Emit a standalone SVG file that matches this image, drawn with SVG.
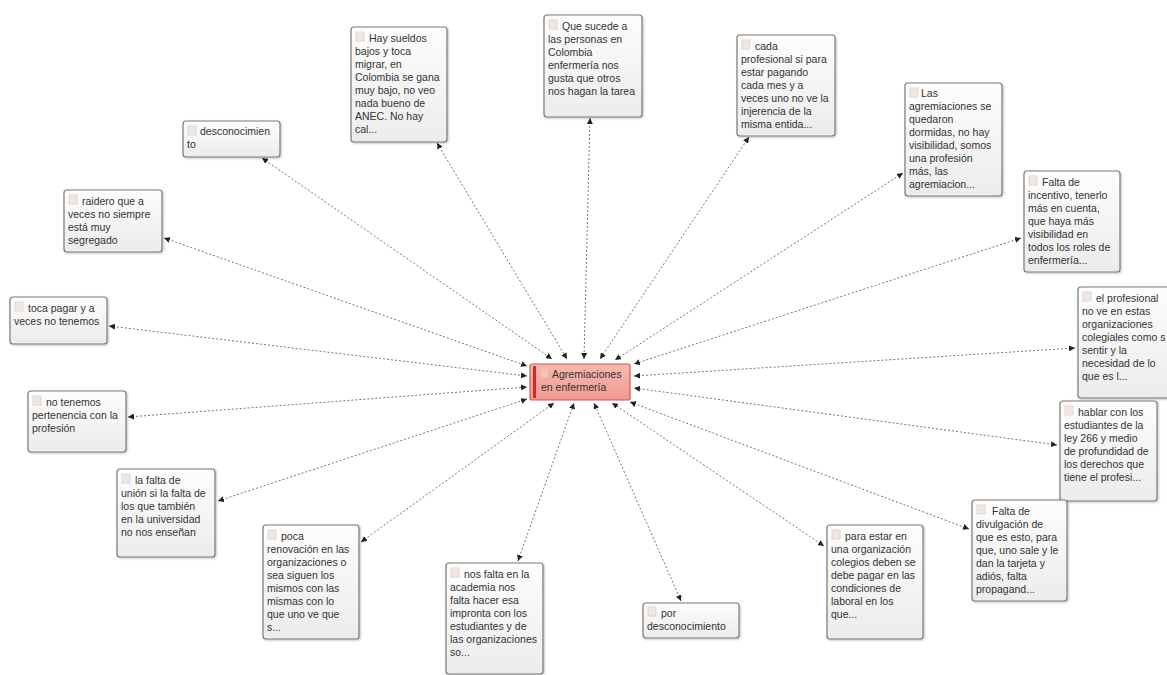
<svg xmlns="http://www.w3.org/2000/svg" width="1167" height="675" viewBox="0 0 1167 675">
  <defs>
    <linearGradient id="boxFill" x1="0" y1="0" x2="0" y2="1">
      <stop offset="0" stop-color="#fdfdfd"/>
      <stop offset="1" stop-color="#ececec"/>
    </linearGradient>
    <linearGradient id="hubFill" x1="0" y1="0" x2="0" y2="1">
      <stop offset="0" stop-color="#f7b8b2"/>
      <stop offset="1" stop-color="#f19a92"/>
    </linearGradient>
    <marker id="tip" viewBox="0 0 6 6" refX="6" refY="3" markerWidth="6" markerHeight="6" markerUnits="userSpaceOnUse" orient="auto-start-reverse">
      <path d="M0,0 L6,3 L0,6 z" fill="#222"/>
    </marker>
    <filter id="shadow" x="-10%" y="-10%" width="130%" height="130%">
      <feDropShadow dx="1" dy="1" stdDeviation="0.8" flood-color="#000" flood-opacity="0.25"/>
    </filter>
  </defs>
  <style>
    .box { fill: url(#boxFill); stroke: #7a7a7a; stroke-width: 1.2; filter: url(#shadow); }
    .ico { fill: #f1e7e1; stroke: #ddd0c8; stroke-width: 0.8; }
    .txt { font-family: "Liberation Sans", Arial, sans-serif; font-size: 10.5px; fill: #333; }
    .hub { fill: url(#hubFill); stroke: #d2574d; stroke-width: 1.2; }
    .bar { fill: #d8281c; }
    .edge { stroke: #666; stroke-width: 0.9; stroke-dasharray: 2 2; fill: none; marker-start: url(#tip); marker-end: url(#tip); }
  </style>
  <rect width="1167" height="675" fill="#ffffff"/>

  <!-- connectors -->
  <g id="edges">
    <line class="edge" x1="262" y1="158" x2="552" y2="359"/>
    <line class="edge" x1="437" y1="143" x2="567" y2="359"/>
    <line class="edge" x1="590" y1="118" x2="584" y2="359"/>
    <line class="edge" x1="749" y1="137" x2="600" y2="359"/>
    <line class="edge" x1="903" y1="173" x2="615" y2="360"/>
    <line class="edge" x1="1021" y1="238" x2="634" y2="364"/>
    <line class="edge" x1="1075" y1="348" x2="634" y2="376"/>
    <line class="edge" x1="1057" y1="445" x2="634" y2="388"/>
    <line class="edge" x1="969" y1="529" x2="630" y2="402"/>
    <line class="edge" x1="824" y1="546" x2="612" y2="403"/>
    <line class="edge" x1="681" y1="601" x2="594" y2="403"/>
    <line class="edge" x1="518" y1="561" x2="574" y2="403"/>
    <line class="edge" x1="361" y1="542" x2="554" y2="403"/>
    <line class="edge" x1="218" y1="501" x2="527" y2="399"/>
    <line class="edge" x1="128" y1="417" x2="527" y2="387"/>
    <line class="edge" x1="109" y1="326" x2="527" y2="376"/>
    <line class="edge" x1="164" y1="238" x2="527" y2="366"/>
  </g>

  <!-- central node -->
  <g id="hub">
    <rect class="hub" x="530" y="364" width="100" height="36" rx="2"/>
    <rect class="bar" x="533" y="366" width="3" height="32"/>
    <rect x="541" y="369" width="7" height="8" fill="#f5c8bc" opacity="0.8"/>
    <text class="txt" fill="#3a2020"><tspan x="552" y="378">Agremiaciones</tspan><tspan x="541" y="391">en enfermería</tspan></text>
  </g>

  <g id="n-desconocimiento">
    <rect class="box" x="183" y="121" width="97" height="36" rx="3"/>
    <rect class="ico" x="188" y="126" width="8" height="9"/>
    <text class="txt"><tspan x="200" y="135">desconocimien</tspan><tspan x="187" y="148">to</tspan></text>
  </g>

  <g id="n-sueldos">
    <rect class="box" x="351" y="27" width="96" height="115" rx="3"/>
    <rect class="ico" x="356" y="32" width="8" height="9"/>
    <text class="txt"><tspan x="369" y="42">Hay sueldos</tspan><tspan x="355" y="55">bajos y toca</tspan><tspan x="355" y="68">migrar, en</tspan><tspan x="355" y="81">Colombia se gana</tspan><tspan x="355" y="94">muy bajo, no veo</tspan><tspan x="355" y="107">nada bueno de</tspan><tspan x="355" y="120">ANEC. No hay</tspan><tspan x="355" y="133">cal...</tspan></text>
  </g>

  <g id="n-sucede">
    <rect class="box" x="544" y="15" width="98" height="102" rx="3"/>
    <rect class="ico" x="549" y="20" width="8" height="9"/>
    <text class="txt"><tspan x="562" y="30">Que sucede a</tspan><tspan x="548" y="43">las personas en</tspan><tspan x="548" y="56">Colombia</tspan><tspan x="548" y="69">enfermería nos</tspan><tspan x="548" y="82">gusta que otros</tspan><tspan x="548" y="95">nos hagan la tarea</tspan></text>
  </g>

  <g id="n-cada">
    <rect class="box" x="737" y="35" width="98" height="101" rx="3"/>
    <rect class="ico" x="742" y="40" width="8" height="9"/>
    <text class="txt"><tspan x="755" y="50">cada</tspan><tspan x="741" y="63">profesional si para</tspan><tspan x="741" y="76">estar pagando</tspan><tspan x="741" y="89">cada mes y a</tspan><tspan x="741" y="102">veces uno no ve la</tspan><tspan x="741" y="115">injerencia de la</tspan><tspan x="741" y="128">misma entida...</tspan></text>
  </g>

  <g id="n-dormidas">
    <rect class="box" x="905" y="83" width="97" height="113" rx="3"/>
    <rect class="ico" x="910" y="88" width="8" height="9"/>
    <text class="txt"><tspan x="921" y="97">Las</tspan><tspan x="909" y="110">agremiaciones se</tspan><tspan x="909" y="123">quedaron</tspan><tspan x="909" y="136">dormidas, no hay</tspan><tspan x="909" y="149">visibilidad, somos</tspan><tspan x="909" y="162">una profesión</tspan><tspan x="909" y="175">más, las</tspan><tspan x="909" y="188">agremiacion...</tspan></text>
  </g>

  <g id="n-incentivo">
    <rect class="box" x="1024" y="171" width="96" height="101" rx="3"/>
    <rect class="ico" x="1029" y="176" width="8" height="9"/>
    <text class="txt"><tspan x="1042" y="186">Falta de</tspan><tspan x="1028" y="199">incentivo, tenerlo</tspan><tspan x="1028" y="212">más en cuenta,</tspan><tspan x="1028" y="225">que haya más</tspan><tspan x="1028" y="238">visibilidad en</tspan><tspan x="1028" y="251">todos los roles de</tspan><tspan x="1028" y="264">enfermería...</tspan></text>
  </g>

  <g id="n-colegiales">
    <rect class="box" x="1078" y="287" width="98" height="111" rx="3"/>
    <rect class="ico" x="1083" y="292" width="8" height="9"/>
    <text class="txt"><tspan x="1096" y="302">el profesional</tspan><tspan x="1082" y="315">no ve en estas</tspan><tspan x="1082" y="328">organizaciones</tspan><tspan x="1082" y="341">colegiales como s</tspan><tspan x="1082" y="354">sentir y la</tspan><tspan x="1082" y="367">necesidad de lo</tspan><tspan x="1082" y="380">que es l...</tspan></text>
  </g>

  <g id="n-ley266">
    <rect class="box" x="1060" y="401" width="97" height="100" rx="3"/>
    <rect class="ico" x="1065" y="406" width="8" height="9"/>
    <text class="txt"><tspan x="1078" y="416">hablar con los</tspan><tspan x="1064" y="429">estudiantes de la</tspan><tspan x="1064" y="442">ley 266 y medio</tspan><tspan x="1064" y="455">de profundidad de</tspan><tspan x="1064" y="468">los derechos que</tspan><tspan x="1064" y="481">tiene el profesi...</tspan></text>
  </g>

  <g id="n-divulgacion">
    <rect class="box" x="972" y="500" width="95" height="101" rx="3"/>
    <rect class="ico" x="977" y="505" width="8" height="9"/>
    <text class="txt"><tspan x="992" y="515">Falta de</tspan><tspan x="976" y="528">divulgación de</tspan><tspan x="976" y="541">que es esto, para</tspan><tspan x="976" y="554">que, uno sale y le</tspan><tspan x="976" y="567">dan la tarjeta y</tspan><tspan x="976" y="580">adiós, falta</tspan><tspan x="976" y="593">propagand...</tspan></text>
  </g>

  <g id="n-pagar-colegio">
    <rect class="box" x="827" y="525" width="96" height="114" rx="3"/>
    <rect class="ico" x="832" y="530" width="8" height="9"/>
    <text class="txt"><tspan x="845" y="540">para estar en</tspan><tspan x="831" y="553">una organización</tspan><tspan x="831" y="566">colegios deben se</tspan><tspan x="831" y="579">debe pagar en las</tspan><tspan x="831" y="592">condiciones de</tspan><tspan x="831" y="605">laboral en los</tspan><tspan x="831" y="618">que...</tspan></text>
  </g>

  <g id="n-por-desconocimiento">
    <rect class="box" x="643" y="603" width="96" height="35" rx="3"/>
    <rect class="ico" x="648" y="607" width="8" height="9"/>
    <text class="txt"><tspan x="661" y="617">por</tspan><tspan x="647" y="630">desconocimiento</tspan></text>
  </g>

  <g id="n-academia">
    <rect class="box" x="446" y="563" width="97" height="111" rx="3"/>
    <rect class="ico" x="451" y="568" width="8" height="9"/>
    <text class="txt"><tspan x="464" y="578">nos falta en la</tspan><tspan x="450" y="591">academia nos</tspan><tspan x="450" y="604">falta hacer esa</tspan><tspan x="450" y="617">impronta con los</tspan><tspan x="450" y="630">estudiantes y de</tspan><tspan x="450" y="643">las organizaciones</tspan><tspan x="450" y="656">so...</tspan></text>
  </g>

  <g id="n-renovacion">
    <rect class="box" x="263" y="525" width="96" height="114" rx="3"/>
    <rect class="ico" x="268" y="530" width="8" height="9"/>
    <text class="txt"><tspan x="281" y="540">poca</tspan><tspan x="267" y="553">renovación en las</tspan><tspan x="267" y="566">organizaciones o</tspan><tspan x="267" y="579">sea siguen los</tspan><tspan x="267" y="592">mismos con las</tspan><tspan x="267" y="605">mismas con lo</tspan><tspan x="267" y="618">que uno ve que</tspan><tspan x="267" y="631">s...</tspan></text>
  </g>

  <g id="n-union">
    <rect class="box" x="117" y="469" width="98" height="88" rx="3"/>
    <rect class="ico" x="122" y="474" width="8" height="9"/>
    <text class="txt"><tspan x="135" y="484">la falta de</tspan><tspan x="121" y="497">unión si la falta de</tspan><tspan x="121" y="510">los que también</tspan><tspan x="121" y="523">en la universidad</tspan><tspan x="121" y="536">no nos enseñan</tspan></text>
  </g>

  <g id="n-pertenencia">
    <rect class="box" x="28" y="391" width="98" height="61" rx="3"/>
    <rect class="ico" x="33" y="396" width="8" height="9"/>
    <text class="txt"><tspan x="46" y="406">no tenemos</tspan><tspan x="32" y="419">pertenencia con la</tspan><tspan x="32" y="432">profesión</tspan></text>
  </g>

  <g id="n-toca-pagar">
    <rect class="box" x="10" y="297" width="97" height="47" rx="3"/>
    <rect class="ico" x="15" y="302" width="8" height="9"/>
    <text class="txt"><tspan x="28" y="312">toca pagar y a</tspan><tspan x="14" y="325">veces no tenemos</tspan></text>
  </g>

  <g id="n-segregado">
    <rect class="box" x="64" y="190" width="98" height="62" rx="3"/>
    <rect class="ico" x="69" y="195" width="8" height="9"/>
    <text class="txt"><tspan x="82" y="205">raidero que a</tspan><tspan x="68" y="218">veces no siempre</tspan><tspan x="68" y="231">está muy</tspan><tspan x="68" y="244">segregado</tspan></text>
  </g>
</svg>
